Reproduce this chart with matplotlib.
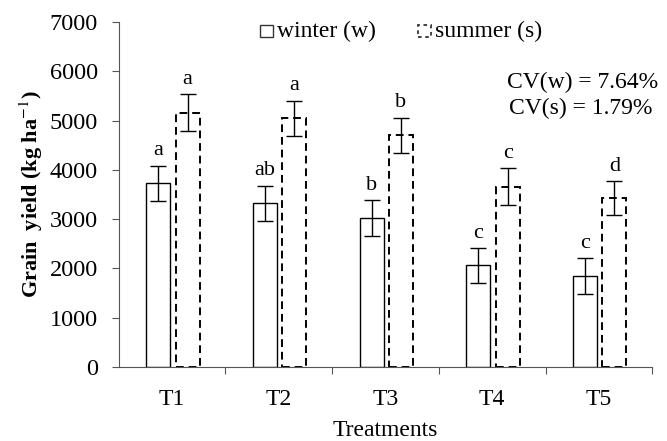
import numpy as np
import matplotlib.pyplot as plt
from matplotlib.patches import Rectangle

plt.rcParams['font.family'] = ['Liberation Serif', 'DejaVu Serif']
plt.rcParams['mathtext.fontset'] = 'stix'

treatments = ['T1', 'T2', 'T3', 'T4', 'T5']
winter = [3730, 3320, 3020, 2060, 1850]
winter_err = [355, 355, 360, 350, 360]
summer = [5160, 5045, 4705, 3660, 3420]
summer_err = [375, 355, 355, 370, 345]
winter_letters = ['a', 'ab', 'b', 'c', 'c']
summer_letters = ['a', 'a', 'b', 'c', 'd']

fig = plt.figure(figsize=(6.67, 4.41), dpi=100)
ax = fig.add_axes([0.178, 0.168, 0.8, 0.782])

x = np.arange(len(treatments))
w = 0.225
xw = x - 0.13
xs = x + 0.145

ax.bar(xw, winter, w, facecolor='white', edgecolor='black', linewidth=1.0)
ax.bar(xs, summer, w, facecolor='white', edgecolor='black', linewidth=1.4,
       linestyle=(0, (4, 2.5)))
ax.errorbar(xw, winter, yerr=winter_err, fmt='none', ecolor='black',
            elinewidth=1.0, capsize=6, capthick=1.0)
ax.errorbar(xs, summer, yerr=summer_err, fmt='none', ecolor='black',
            elinewidth=1.0, capsize=6, capthick=1.0)

for xi, v, e, t in zip(xw, winter, winter_err, winter_letters):
    ax.text(xi, v + e + 110, t, ha='center', va='bottom', fontsize=16)
for xi, v, e, t in zip(xs, summer, summer_err, summer_letters):
    ax.text(xi, v + e + 110, t, ha='center', va='bottom', fontsize=16)

ax.set_xlim(-0.5, 4.5)
ax.set_ylim(0, 7000)
ax.set_yticks(range(0, 7001, 1000))
ax.set_xticks(np.arange(0.5, 4.6, 1.0))
ax.set_xticklabels([])
ax.set_xticks(x, minor=True)
ax.set_xticklabels(treatments, minor=True)
ax.tick_params(axis='x', which='minor', length=0, pad=16, labelsize=17)
ax.tick_params(axis='x', which='major', direction='out', length=5, color='#555555')
ax.tick_params(axis='y', direction='out', length=5, labelsize=17.5, color='#555555', pad=10)
for s in ['top', 'right']:
    ax.spines[s].set_visible(False)
for s in ['left', 'bottom']:
    ax.spines[s].set_color('#555555')

ax.set_ylabel('Grain  yield (kg ha$^{-1}$)', fontsize=16, fontweight='bold', labelpad=3)
ax.set_xlabel('Treatments', fontsize=17, labelpad=7)

# legend
fig.patches.append(Rectangle((0.39, 0.916), 0.02, 0.028, transform=fig.transFigure,
                             facecolor='white', edgecolor='#333333', linewidth=1.0))
fig.text(0.415, 0.928, 'winter (w)', fontsize=17, va='center')
fig.patches.append(Rectangle((0.626, 0.916), 0.02, 0.028, transform=fig.transFigure,
                             facecolor='white', edgecolor='#333333', linewidth=1.3,
                             linestyle=(0, (2, 2))))
fig.text(0.652, 0.928, 'summer (s)', fontsize=17, va='center')

fig.text(0.986, 0.814, 'CV(w) = 7.64%', fontsize=17, ha='right', va='center')
fig.text(0.978, 0.755, 'CV(s) = 1.79%', fontsize=17, ha='right', va='center')

plt.savefig('out.png', dpi=100)
